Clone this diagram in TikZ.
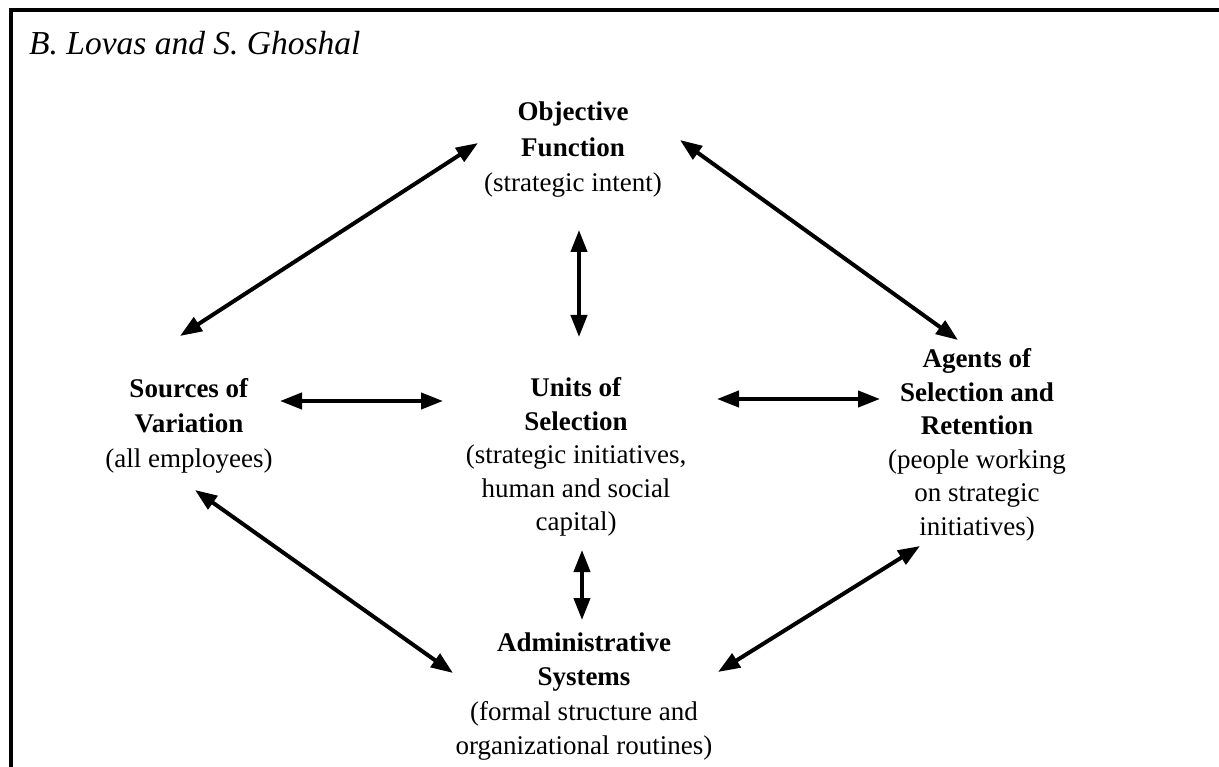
\documentclass[tikz,border=0pt]{standalone}
\usepackage{fontspec}
\setmainfont{Liberation Serif}
\usetikzlibrary{arrows.meta}
\newcommand{\blocktext}[1]{\begin{tabular}[t]{@{}c@{}}#1\end{tabular}}
\begin{document}
\begin{tikzpicture}[x=1pt,y=-1pt,
  blk/.style={anchor=base, inner sep=0pt, font=\fontsize{27}{33.5}\selectfont},
  dbl/.style={line width=4pt, {Triangle[length=22pt,width=16pt]}-{Triangle[length=22pt,width=16pt]}},
  framerule/.style={line width=4pt, line join=miter}]
\useasboundingbox (0,0) rectangle (1219,767);
% frame
\draw[framerule] (11,767) -- (11,10) -- (1219,10);
% title
\node[anchor=base west, inner sep=0pt, font=\fontsize{33.5}{40}\selectfont\itshape] (title) at (29,55) {B. Lovas and S. Ghoshal};
% blocks
\node[blk, font=\fontsize{27}{35.5}\selectfont] (obj) at (573,121) {\blocktext{\textbf{Objective}\\\textbf{Function}\\(strategic intent)}};
\node[blk, font=\fontsize{27}{35}\selectfont] (src) at (189,398) {\blocktext{\textbf{Sources of}\\\textbf{Variation}\\(all employees)}};
\node[blk] (unit) at (576,397) {\blocktext{\textbf{Units of}\\\textbf{Selection}\\(strategic initiatives,\\human and social\\capital)}};
\node[blk] (agt) at (977,368) {\blocktext{\textbf{Agents of}\\\textbf{Selection and}\\\textbf{Retention}\\(people working\\on strategic\\initiatives)}};
\node[blk, font=\fontsize{27}{34.5}\selectfont] (adm) at (584,651) {\blocktext{\textbf{Administrative}\\\textbf{Systems}\\(formal structure and\\organizational routines)}};
% connector ends
\coordinate (objSW) at (478,143);
\coordinate (srcN) at (180,336);
\coordinate (objSE) at (680,140);
\coordinate (agtN) at (958,340);
\coordinate (objS) at (579,230);
\coordinate (unitN) at (579,337);
\coordinate (srcE) at (280,401);
\coordinate (unitW) at (443,401);
\coordinate (unitE) at (717,399);
\coordinate (agtW) at (880,399);
\coordinate (unitS) at (582,550);
\coordinate (admN) at (582,620);
\coordinate (srcS) at (195,490);
\coordinate (admW) at (453,673);
\coordinate (admE) at (718,672);
\coordinate (agtS) at (920,546);
% connectors
\draw[dbl] (objSW) -- (srcN);
\draw[dbl] (objSE) -- (agtN);
\draw[dbl] (objS) -- (unitN);
\draw[dbl] (srcE) -- (unitW);
\draw[dbl] (unitE) -- (agtW);
\draw[dbl] (unitS) -- (admN);
\draw[dbl] (srcS) -- (admW);
\draw[dbl] (admE) -- (agtS);
\end{tikzpicture}
\end{document}
